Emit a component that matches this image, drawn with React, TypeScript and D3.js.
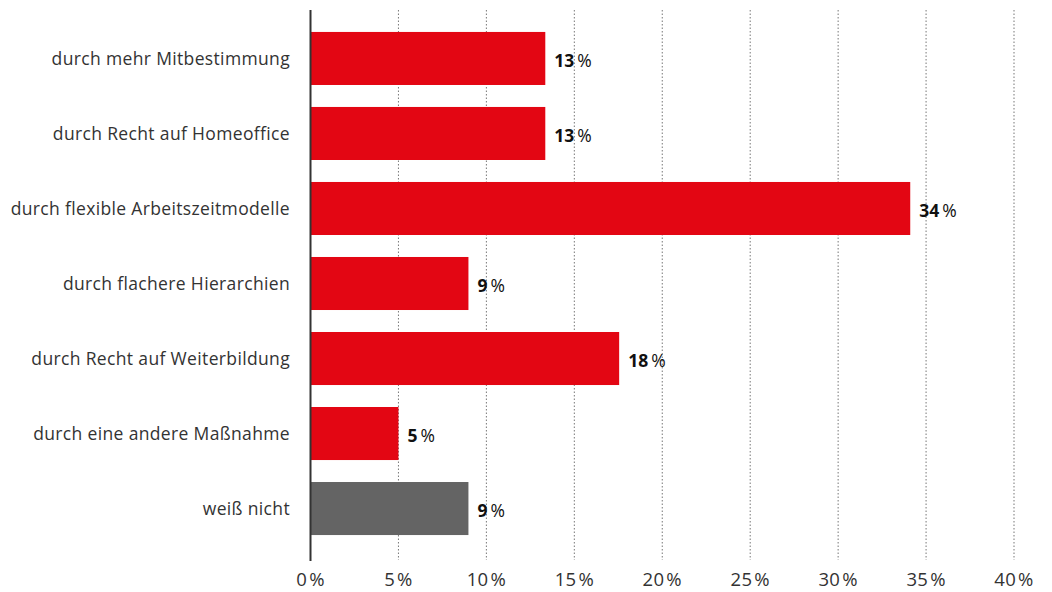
import React from "react";
import * as d3 from "d3";

const categories = [
  "durch mehr Mitbestimmung",
  "durch Recht auf Homeoffice",
  "durch flexible Arbeitszeitmodelle",
  "durch flachere Hierarchien",
  "durch Recht auf Weiterbildung",
  "durch eine andere Maßnahme",
  "weiß nicht",
];
const values = [13.35, 13.35, 34.1, 8.98, 17.55, 5.0, 8.98];
const valueLabels = ["13", "13", "34", "9", "18", "5", "9"];
const barColors = ["#e30613", "#e30613", "#e30613", "#e30613", "#e30613", "#e30613", "#646464"];
const ticks = [0, 5, 10, 15, 20, 25, 30, 35, 40];

export default function App() {
  const W = 1052, H = 592;
  const x = d3.scaleLinear().domain([0, 40]).range([310.5, 1014]);
  const y = d3.scaleBand<string>().domain(categories).range([21, 546]).paddingInner(0.293).paddingOuter(0.146);
  const font = "'Open Sans', 'Noto Sans', sans-serif";
  return (
    <svg width={W} height={H} style={{ position: "absolute", left: 0, top: 0 }} fontFamily={font}>
      {ticks.slice(1).map((t) => (
        <line key={t} x1={x(t)} x2={x(t)} y1={10} y2={560} stroke="#777" strokeWidth={1} strokeDasharray="1.5,2" />
      ))}
      {categories.map((c, i) => (
        <rect key={c} x={x(0)} y={y(c)} width={x(values[i]) - x(0)} height={y.bandwidth()} fill={barColors[i]} />
      ))}
      <line x1={x(0)} x2={x(0)} y1={10} y2={561} stroke="#333" strokeWidth={2} />
      {categories.map((c) => (
        <text key={c} x={290} y={y(c)! + y.bandwidth() / 2} dy="0.35em" textAnchor="end" fontSize={17.5} letterSpacing={0.35} fill="#333">
          {c}
        </text>
      ))}
      {categories.map((c, i) => (
        <text key={c} x={x(values[i]) + 9} y={y(c)! + y.bandwidth() / 2 + 2} dy="0.35em" fontSize={17.5} fill="#111">
          <tspan fontWeight="bold">{valueLabels[i]}</tspan>
          <tspan dx={3} fontWeight="normal">%</tspan>
        </text>
      ))}
      {ticks.map((t) => (
        <text key={t} x={x(t)} y={586} textAnchor="middle" fontSize={18.5} letterSpacing={0.3} fill="#333">
          {t}
          <tspan dx={2}>%</tspan>
        </text>
      ))}
    </svg>
  );
}
